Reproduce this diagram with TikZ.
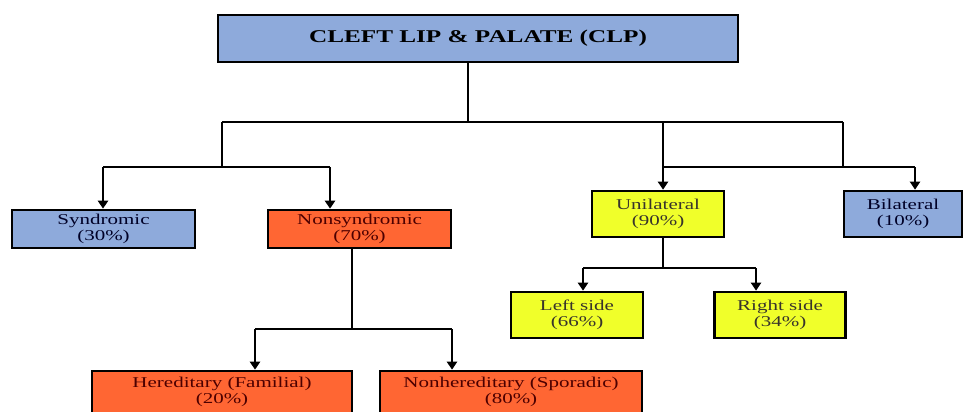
\documentclass[tikz,border=0pt]{standalone}
\usepackage{fontspec}
\setmainfont[FakeStretch=1.4]{Liberation Serif}
\usetikzlibrary{positioning,arrows.meta}

\definecolor{clpblue}{HTML}{8EAADB}
\definecolor{clporange}{HTML}{FF6633}
\definecolor{clpyellow}{HTML}{F0FF2A}

\begin{document}
\begin{tikzpicture}[x=1pt,y=-1pt,
bluenode/.style={rectangle, draw=black, fill=clpblue, line width=2.6pt, align=center, text=black!85!blue, font=\fontsize{15}{16}\selectfont, inner sep=0pt},
orangenode/.style={rectangle, draw=black, fill=clporange, line width=2.6pt, align=center, text=black!70!red, font=\fontsize{15}{16}\selectfont, inner sep=0pt},
yellownode/.style={rectangle, draw=black, fill=clpyellow, line width=2.6pt, align=center, text=black!80!olive, font=\fontsize{15}{16}\selectfont, inner sep=0pt},
link/.style={line width=2.5pt},
arrowlink/.style={line width=2.5pt, -{Triangle[width=10pt,length=8pt]}},
]
\useasboundingbox (0,0) rectangle (964,412);

%Nodes
\node[bluenode, minimum width=520pt, minimum height=47pt, font=\bfseries\fontsize{18}{20}\selectfont, text=black]
      (clp) at (478,38.5) {\raisebox{3pt}{CLEFT LIP \& PALATE (CLP)}};
\node[bluenode, minimum width=183pt, minimum height=38pt]   (syndromic)    at (103.5,229)   {\raisebox{-2pt}{\shortstack{Syndromic\\(30\%)}}};
\node[orangenode, minimum width=183pt, minimum height=38pt] (nonsyndromic) at (359.5,229)   {\raisebox{-2pt}{\shortstack{Nonsyndromic\\(70\%)}}};
\node[orangenode, minimum width=260pt, minimum height=42pt] (hereditary)   at (222,392)     {Hereditary (Familial)\\(20\%)};
\node[orangenode, minimum width=262pt, minimum height=42pt] (sporadic)     at (511,392)     {Nonhereditary (Sporadic)\\(80\%)};
\node[yellownode, minimum width=132pt, minimum height=46pt] (unilateral)   at (658,214)     {Unilateral\\(90\%)};
\node[bluenode, minimum width=118pt, minimum height=46pt]   (bilateral)    at (903,214)     {Bilateral\\(10\%)};
\node[yellownode, minimum width=132pt, minimum height=46pt] (leftside)     at (577,315)     {Left side\\(66\%)};
\node[yellownode, minimum width=131pt, minimum height=46pt] (rightside)    [right=69pt of leftside] {Right side\\(34\%)};

%Junctions
\coordinate (split)   at (468,122);
\coordinate (typeL)   at (222,122);
\coordinate (sideR)   at (843,122);
\coordinate (typeJ)   at (222,167);
\coordinate (sideJ)   at (663,167);
\coordinate (heredJ)  at (352,329);
\coordinate (uniJ)    at (663,268);

%Lines
\draw[link] (clp.south -| split) -- (split);
\draw[link] (typeL) -- (sideR);
\draw[link] (typeL) -- (typeJ);
\draw[link] (103,167) -- (330,167);
\draw[arrowlink] (103,167) -- (syndromic.north -| 103,0);
\draw[arrowlink] (330,167) -- (nonsyndromic.north -| 330,0);
\draw[link] (sideJ |- split) -- (sideJ);
\draw[link] (sideR) -- (sideR |- sideJ);
\draw[link] (sideJ) -- (915,167);
\draw[arrowlink] (sideJ) -- (unilateral.north -| sideJ);
\draw[arrowlink] (915,167) -- (bilateral.north -| 915,0);
\draw[link] (nonsyndromic.south -| heredJ) -- (heredJ);
\draw[link] (255,329) -- (452,329);
\draw[arrowlink] (255,329) -- (hereditary.north -| 255,0);
\draw[arrowlink] (452,329) -- (sporadic.north -| 452,0);
\draw[link] (unilateral.south -| uniJ) -- (uniJ);
\draw[link] (583,268) -- (756,268);
\draw[arrowlink] (583,268) -- (leftside.north -| 583,0);
\draw[arrowlink] (756,268) -- (rightside.north -| 756,0);

\end{tikzpicture}
\end{document}
